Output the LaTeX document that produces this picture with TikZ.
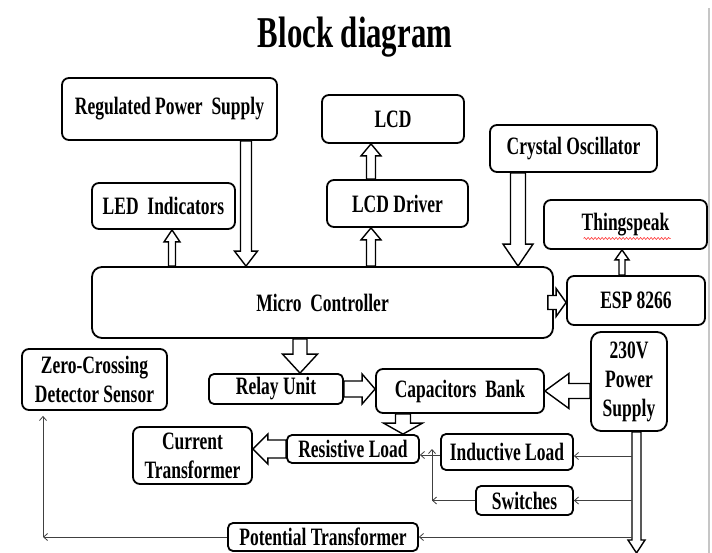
\documentclass[tikz,border=0pt]{standalone}
\usepackage{fontspec}
\setmainfont{Liberation Serif}[FakeStretch=0.7]
\usetikzlibrary{arrows.meta,
        calc,
        decorations.pathmorphing}

% hollow block arrow: shaft half width, head half width, head length
\tikzset{fatarrow/.style n args={3}{draw, line width=1.4pt, fill=white, line join=miter,
    to path={let \p1=(\tikztostart), \p2=(\tikztotarget),
        \n1={atan2(\y2-\y1,\x2-\x1)},
        \n2={veclen(\x2-\x1,\y2-\y1)-#3} in
      [shift={(\p1)}, rotate=\n1]
      (0,-#1) -- (\n2,-#1) -- (\n2,-#2) -- (\n2+#3,0) -- (\n2,#2) -- (\n2,#1) -- (0,#1) -- cycle}}}

\begin{document}
\begin{tikzpicture}[x=1pt,y=-1pt,
        blk/.style={draw, line width=1.8pt, rounded corners=7pt, inner sep=0pt, align=center,
            font=\fontsize{25}{29}\selectfont\bfseries},
        wire/.style={draw=black!75, line width=0.8pt, -{Straight Barb[length=4pt,width=7pt]}}]
    \fill[white] (0,0) rectangle (712,553);
    \useasboundingbox (0,0) rectangle (712,553);
    \draw[gray!45, line width=2pt] (708.5,8) -- (708.5,553);

    \node [anchor=base, font=\fontsize{44}{50}\selectfont\bfseries] (title) at (355,48) {Block diagram};

    \node [blk, minimum width=215pt, minimum height=62pt] (rps) at (169.5,109) {Regulated Power\ \ Supply};
    \node [blk, minimum width=143pt, minimum height=46pt] (led) at (163.5,206) {LED\ \ Indicators};
    \node [blk, minimum width=142pt, minimum height=48pt] (lcd) at (393,119) {LCD};
    \node [blk, minimum width=141pt, minimum height=47pt] (lcdd) at (397.5,203.5) {LCD Driver};
    \node [blk, minimum width=167pt, minimum height=47pt] (xtal) at (573.5,148.5) {Crystal Oscillator};
    \node [blk, minimum width=163pt, minimum height=49pt] (thing) at (625.5,224.5) {Thingspeak};
    \node [blk, rounded corners=10pt, minimum width=461pt, minimum height=71pt] (mc) at (322.5,302.5) {Micro\ \ Controller};
    \node [blk, minimum width=138pt, minimum height=49pt] (esp) at (636,300.5) {ESP 8266};
    \node [blk, minimum width=145pt, minimum height=61pt] (zcd) at (94.5,379.5) {Zero-Crossing\\Detector Sensor};
    \node [blk, rounded corners=5pt, minimum width=134pt, minimum height=30pt] (relay) at (276,389) {Relay Unit};
    \node [blk, minimum width=168pt, minimum height=44pt] (cap) at (460,391) {Capacitors\ \ Bank};
    \node [blk, rounded corners=10pt, minimum width=76pt, minimum height=99pt] (ps) at (629,381.5) {230V\\Power\\Supply};
    \node [blk, minimum width=119pt, minimum height=57pt] (ct) at (192.5,455.5) {Current\\Transformer};
    \node [blk, rounded corners=5pt, minimum width=132pt, minimum height=28pt] (res) at (353,449) {Resistive Load};
    \node [blk, rounded corners=5pt, minimum width=132pt, minimum height=36pt] (ind) at (507,452) {Inductive Load};
    \node [blk, rounded corners=5pt, minimum width=97pt, minimum height=29pt] (sw) at (524.5,500.5) {Switches};
    \node [blk, rounded corners=5pt, minimum width=190pt, minimum height=28pt] (pt) at (323,537) {Potential Transformer};

    \draw [red!80, line width=0.6pt, decorate, decoration={snake, amplitude=1pt, segment length=3.5pt}]
        ($(thing.center)+(-42,14)$) -- ($(thing.center)+(45,14)$);

    \coordinate (bus) at (632,0);
    \coordinate (psend) at (636.5,553);
    \coordinate (swj) at (432,500.5);
    \coordinate (ptj) at (43,537);

    \draw [fatarrow={5.5}{11.5}{15}] (rps.south -| 246,0) to (mc.north -| 246,0);
    \draw [fatarrow={3.5}{8}{12}] (mc.north -| 172,0) to (led.south -| 172,0);
    \draw [fatarrow={4.5}{10}{12}] (mc.north -| 371,0) to (lcdd.south -| 371,0);
    \draw [fatarrow={4.5}{10}{12}] (lcdd.north -| 371,0) to (lcd.south -| 371,0);
    \draw [fatarrow={7.5}{15}{22}] (xtal.south -| 518,0) to (mc.north -| 518,0);
    \draw [fatarrow={3}{7}{10}] (esp.north -| 622,0) to (thing.south -| 622,0);
    \draw [fatarrow={7}{14}{10}] ([xshift=-6pt]mc.east) to (mc.east -| esp.west);
    \draw [fatarrow={7}{17.5}{19}] (mc.south -| 300,0) to (relay.north -| 300,0);
    \draw [fatarrow={8}{15}{13}] (relay.east) to (relay.east -| cap.west);
    \draw [fatarrow={7.5}{17.5}{24}] (ps.west |- cap.east) to (cap.east);
    \draw [fatarrow={7.5}{19.5}{11}] (cap.south -| 403,0) to (res.north -| 403,0);
    \draw [fatarrow={9}{15}{15}] (res.west) to (res.west -| ct.east);
    \draw [fatarrow={4.5}{8.5}{13}] (ps.south -| psend) to (psend);

    \draw [wire] ([yshift=-4pt]ind.east -| bus) -- ([yshift=-4pt]ind.east);
    \draw [wire] (sw.east -| bus) -- (sw.east);
    \draw [wire] (pt.east -| bus) -- (pt.east);
    \draw [wire] ([yshift=-3pt]ind.west) -- ([yshift=-3pt]ind.west -| res.east);
    \draw [wire] (sw.west) -- (swj);
    \draw [wire] (swj) -- (swj |- res.east);
    \draw [wire] (pt.west) -- (ptj);
    \draw [wire] (ptj) -- ([yshift=-5pt]ptj |- zcd.south);
\end{tikzpicture}
\end{document}
